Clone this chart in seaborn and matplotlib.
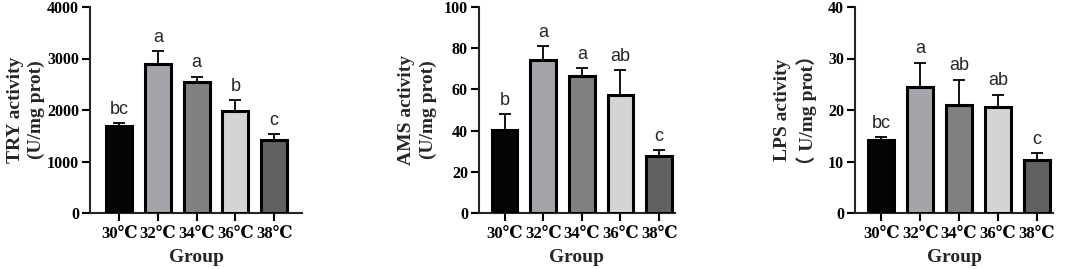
import numpy as np
import pandas as pd
import matplotlib
matplotlib.use("Agg")
import matplotlib.pyplot as plt
import seaborn as sns

# Dados
grupos = ["30℃", "32℃", "34℃", "36℃", "38℃"]
cores = ["#050505", "#a3a3ab", "#808080", "#d4d4d4", "#616161"]

try_media = [1695, 2896, 2545, 1990, 1416]
try_erro = [52, 247, 104, 200, 123]
try_letras = ["bc", "a", "a", "b", "c"]

ams_media = [40.3, 74.2, 66.4, 57.5, 27.6]
ams_erro = [7.9, 6.8, 3.9, 11.7, 3.1]
ams_letras = ["b", "a", "a", "ab", "c"]

lps_media = [14.2, 24.4, 21.0, 20.6, 10.3]
lps_erro = [0.6, 4.8, 4.9, 2.4, 1.4]
lps_letras = ["bc", "a", "ab", "ab", "c"]

sns.set_style("ticks")
serif = ["Liberation Serif", "DejaVu Serif", "Noto Sans CJK SC"]
plt.rcParams["font.family"] = serif

fig = plt.figure(figsize=(10.65, 2.69), dpi=100)

paineis = [
    dict(media=try_media, erro=try_erro, letras=try_letras, ymax=4000, passo=1000,
         rotulo="TRY activity\n(U/mg prot)", pos=[90, 302], xlim=(-0.75, 4.72), lx=-0.21),
    dict(media=ams_media, erro=ams_erro, letras=ams_letras, ymax=100, passo=20,
         rotulo="AMS activity\n(U/mg prot)", pos=[479, 675], xlim=(-0.66, 4.41), lx=-0.215),
    dict(media=lps_media, erro=lps_erro, letras=lps_letras, ymax=40, passo=10,
         rotulo="LPS activity\n（ U/mg prot）", pos=[855, 1053], xlim=(-0.68, 4.42), lx=-0.19),
]

W, H = 1065, 269
for p in paineis:
    esq, dir = p["pos"]
    ax = fig.add_axes([esq / W, 1 - 213 / H, (dir - esq) / W, 206 / H])
    df = pd.DataFrame({"Group": grupos, "valor": p["media"]})
    sns.barplot(data=df, x="Group", y="valor", hue="Group", palette=cores,
                legend=False, width=0.67, edgecolor="black", linewidth=2.2,
                errorbar=None, ax=ax, zorder=3)
    x = np.arange(len(grupos))
    ax.errorbar(x, p["media"], yerr=[np.zeros(len(x)), p["erro"]], fmt="none",
                ecolor="black", elinewidth=1.3, capsize=4.3, capthick=1.3, zorder=2)
    for xi, m, e, l in zip(x, p["media"], p["erro"], p["letras"]):
        ax.text(xi, m + e + p["ymax"] * 0.025, l, ha="center", va="bottom",
                fontsize=13, family="Liberation Sans")
    ax.set_ylim(0, p["ymax"])
    ax.set_yticks(np.arange(0, p["ymax"] + 1, p["passo"]))
    ax.set_xlim(*p["xlim"])
    ax.set_xlabel("Group", fontsize=14, fontweight="bold")
    ax.set_ylabel(p["rotulo"], fontsize=14, fontweight="bold", linespacing=1.35)
    ax.yaxis.set_label_coords(p["lx"], 0.5)
    ax.xaxis.set_label_coords(0.5, -0.175)
    for t in ax.get_yticklabels():
        t.set_fontweight("bold")
        t.set_fontsize(11.5)
    for t in ax.get_xticklabels():
        t.set_fontweight("bold")
        t.set_fontsize(12)
    ax.tick_params(width=1.5, length=6, pad=2, colors="black")
    ax.tick_params(axis="x", length=6, pad=3)
    sns.despine(ax=ax)
    ax.spines["left"].set_linewidth(1.5)
    ax.spines["bottom"].set_linewidth(1.5)

plt.savefig("out.png", dpi=100)
